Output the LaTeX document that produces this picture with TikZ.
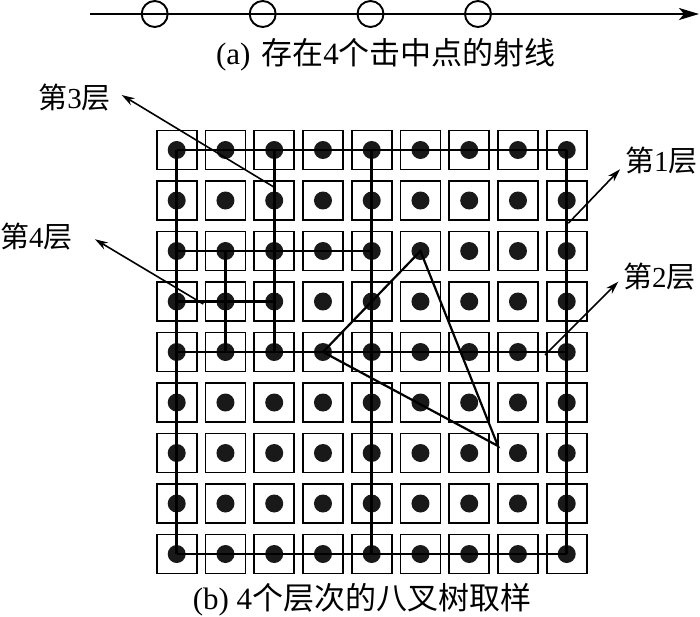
\documentclass[tikz,border=0pt]{standalone}
\usepackage{fontspec}
\setmainfont{Liberation Serif}
\newfontfamily\cjk{Noto Sans CJK SC}
\usetikzlibrary{arrows.meta}
\begin{document}
\begin{tikzpicture}[x=1pt,y={(0pt,-1pt)},
  cell/.style={draw, line width=1.9pt, minimum width=40pt, minimum height=39pt, inner sep=0pt},
  dot/.style={circle, fill=black!90, minimum size=18pt, inner sep=0pt},
  vlayer/.style={line width=2.8pt},
  hlayer/.style={line width=2.1pt},
  tri/.style={line width=2.2pt, line join=miter},
  pointer/.style={line width=1.6pt, -{Stealth[length=13pt,width=8pt]}},
  hit/.style={draw, circle, line width=1.9pt, minimum size=26pt, inner sep=0pt},
  lab/.style={font=\fontsize{29}{31}\selectfont, inner sep=0pt},
  captext/.style={font=\fontsize{31}{33}\selectfont, inner sep=0pt}]
\useasboundingbox (0,0) rectangle (700,616);
% top ray
\coordinate (r0) at (90,14);
\coordinate (r1) at (699,14);
\draw[line width=2pt, -{Stealth[length=20pt,width=12pt,inset=5pt]}] (r0) -- (r1);
\node[hit] (h1) at (154.7,14) {};
\node[hit] (h2) at (262.7,14) {};
\node[hit] (h3) at (370.5,14) {};
\node[hit] (h4) at (478,14) {};
\node[captext] (ca) at (386,55) {(a)\hspace{0.35em}{\cjk 存在}4{\cjk 个击中点的射线}};
% grid
\foreach \c in {0,...,8} \foreach \r in {0,...,8} {
  \coordinate (p-\c-\r) at ({176.7+48.75*\c},{150+50.5*\r});
  \node[cell] (b-\c-\r) at (p-\c-\r) {};
  \node[dot] (d-\c-\r) at (p-\c-\r) {};
}
% layer 1
\draw[vlayer] (p-0-0) -- (p-0-8) (p-8-0) -- (p-8-8);
\draw[hlayer] (p-0-0) -- (p-8-0) (p-0-8) -- (p-8-8);
% layer 2
\draw[vlayer] (p-4-0) -- (p-4-8);
\draw[line width=1.6pt] (p-0-4) -- (p-8-4);
% layer 3
\draw[vlayer] (p-2-0) -- (p-2-4);
\draw[hlayer] (p-0-2) -- (p-4-2);
% layer 4
\draw[vlayer] (p-1-2) -- (p-1-4);
\draw[hlayer] (p-0-3) -- (p-2-3);
% triangle
\coordinate (apex) at (498,446);
\draw[tri] (p-3-4) -- (p-5-2) -- (apex) -- cycle;
% pointers and labels
\node[lab, anchor=east] (l3) at (111,98) {{\cjk 第}3{\cjk 层}};
\coordinate (s3) at (273.3,186.7);
\coordinate (t3) at (121.7,95);
\draw[pointer] (s3) -- (t3);
\node[lab, anchor=west] (l4) at (0,237) {{\cjk 第}4{\cjk 层}};
\coordinate (s4) at (203.3,304);
\coordinate (t4) at (95,239.3);
\draw[pointer] (s4) -- (t4);
\node[lab, anchor=west] (l1) at (625,161) {{\cjk 第}1{\cjk 层}};
\coordinate (s1) at (568.3,223.3);
\coordinate (t1) at (620,169.3);
\draw[pointer] (s1) -- (t1);
\node[lab, anchor=west] (l2) at (623,277) {{\cjk 第}2{\cjk 层}};
\coordinate (s2) at (545,355);
\coordinate (t2) at (618.3,281.7);
\draw[pointer] (s2) -- (t2);
\node[captext] (cb) at (362,600) {(b) 4{\cjk 个层次的八叉树取样}};
\end{tikzpicture}
\end{document}
